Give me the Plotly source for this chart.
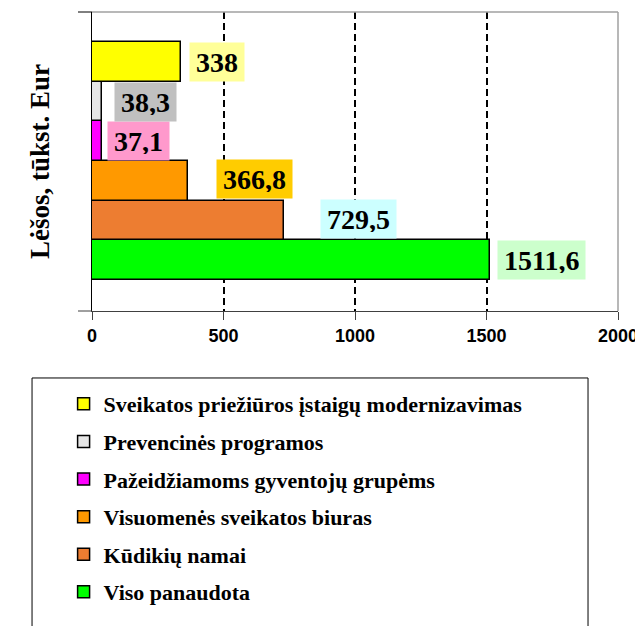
import plotly.graph_objects as go

# ---- data (bottom to top) ----
categories = [
    "Viso panaudota",
    "Kūdikių namai",
    "Visuomenės sveikatos biuras",
    "Pažeidžiamoms gyventojų grupėms",
    "Prevencinės programos",
    "Sveikatos priežiūros įstaigų modernizavimas",
]
values = [1511.6, 729.5, 366.8, 37.1, 38.3, 338]
value_labels = ["1511,6", "729,5", "366,8", "37,1", "38,3", "338"]
x_ticks = [0, 500, 1000, 1500, 2000]
y_title = "Lėšos, tūkst. Eur"

# ---- styles ----
bar_colors = ["#00FF00", "#ED7D31", "#FF9900", "#FF00FF", "#E6E6E6", "#FFFF00"]
label_bg = ["#CCFFCC", "#CCFFFF", "#FFCC00", "#FF99CC", "#C0C0C0", "#FFFF99"]
label_xshift = [7, 36, 28, 5, 12, 8]
label_yshift = [0, 2, 2, 0, 0, 0]

serif = "Liberation Serif"
sans = "Liberation Sans"

fig = go.Figure()
n = len(categories)
for i, (cat, val, col) in enumerate(zip(categories, values, bar_colors)):
    fig.add_trace(go.Bar(
        y=[cat], x=[val], name=cat, orientation="h",
        marker=dict(color=col, line=dict(color="black", width=1.5)),
        legendgroup=cat, legendrank=n - i, hoverinfo="x+name",
    ))

annotations = []
for cat, val, lab, bg, xs, ys in zip(categories, values, value_labels, label_bg, label_xshift, label_yshift):
    annotations.append(dict(
        x=val, y=cat, xref="x", yref="y", text=lab, showarrow=False,
        xanchor="left", yanchor="middle", xshift=xs, yshift=ys,
        bgcolor=bg, borderpad=6, height=26,
        font=dict(family=serif, size=28, color="black", weight="bold"),
    ))

shapes = [
    # gray plot-area border (top and right)
    dict(type="line", xref="paper", yref="paper", x0=0, x1=1, y0=1, y1=1,
         line=dict(color="#A0A0A0", width=1.5), layer="above"),
    dict(type="line", xref="paper", yref="paper", x0=1, x1=1, y0=0, y1=1,
         line=dict(color="#A0A0A0", width=1.5), layer="above"),
    # category-axis end ticks
    dict(type="line", xref="paper", yref="paper", xsizemode="pixel", xanchor=0,
         x0=-14, x1=0, y0=1, y1=1, line=dict(color="black", width=1)),
    dict(type="line", xref="paper", yref="paper", xsizemode="pixel", xanchor=0,
         x0=-14, x1=0, y0=0, y1=0, line=dict(color="#404040", width=1)),
    # legend frame
    dict(type="rect", xref="paper", yref="paper", x0=-0.114, x1=0.943, y0=-1.08, y1=-0.224,
         line=dict(color="black", width=1), fillcolor="rgba(0,0,0,0)"),
]

fig.update_layout(
    width=643, height=626,
    margin=dict(l=84, r=33, t=4, b=323, autoexpand=False),
    paper_bgcolor="white", plot_bgcolor="white",
    barmode="overlay", bargap=0,
    showlegend=True,
    legend=dict(
        x=-0.054, y=-0.241, xanchor="left", yanchor="top",
        traceorder="grouped", tracegroupgap=6,
        font=dict(family=serif, size=22, color="black", weight="bold"),
        bgcolor="rgba(0,0,0,0)", borderwidth=0,
    ),
    xaxis=dict(
        range=[0, 2000], tickvals=x_ticks, ticktext=[str(t) for t in x_ticks],
        showgrid=True, gridcolor="black", gridwidth=1.5, griddash="7px,4px",
        zeroline=False, showline=True, linecolor="#404040", linewidth=1,
        ticks="outside", ticklen=8, tickcolor="#404040",
        tickfont=dict(family=sans, size=18, color="black", weight="bold"),
        fixedrange=True,
    ),
    yaxis=dict(
        type="category", categoryorder="array", categoryarray=categories,
        range=[-1.28, 6.256], showticklabels=False, ticks="",
        showgrid=False, zeroline=False, showline=True, linecolor="black", linewidth=1,
        title=dict(text=y_title, standoff=33,
                   font=dict(family=serif, size=27, color="black", weight="bold")),
        fixedrange=True,
    ),
    annotations=annotations,
    shapes=shapes,
)

fig.write_html("out.html")
